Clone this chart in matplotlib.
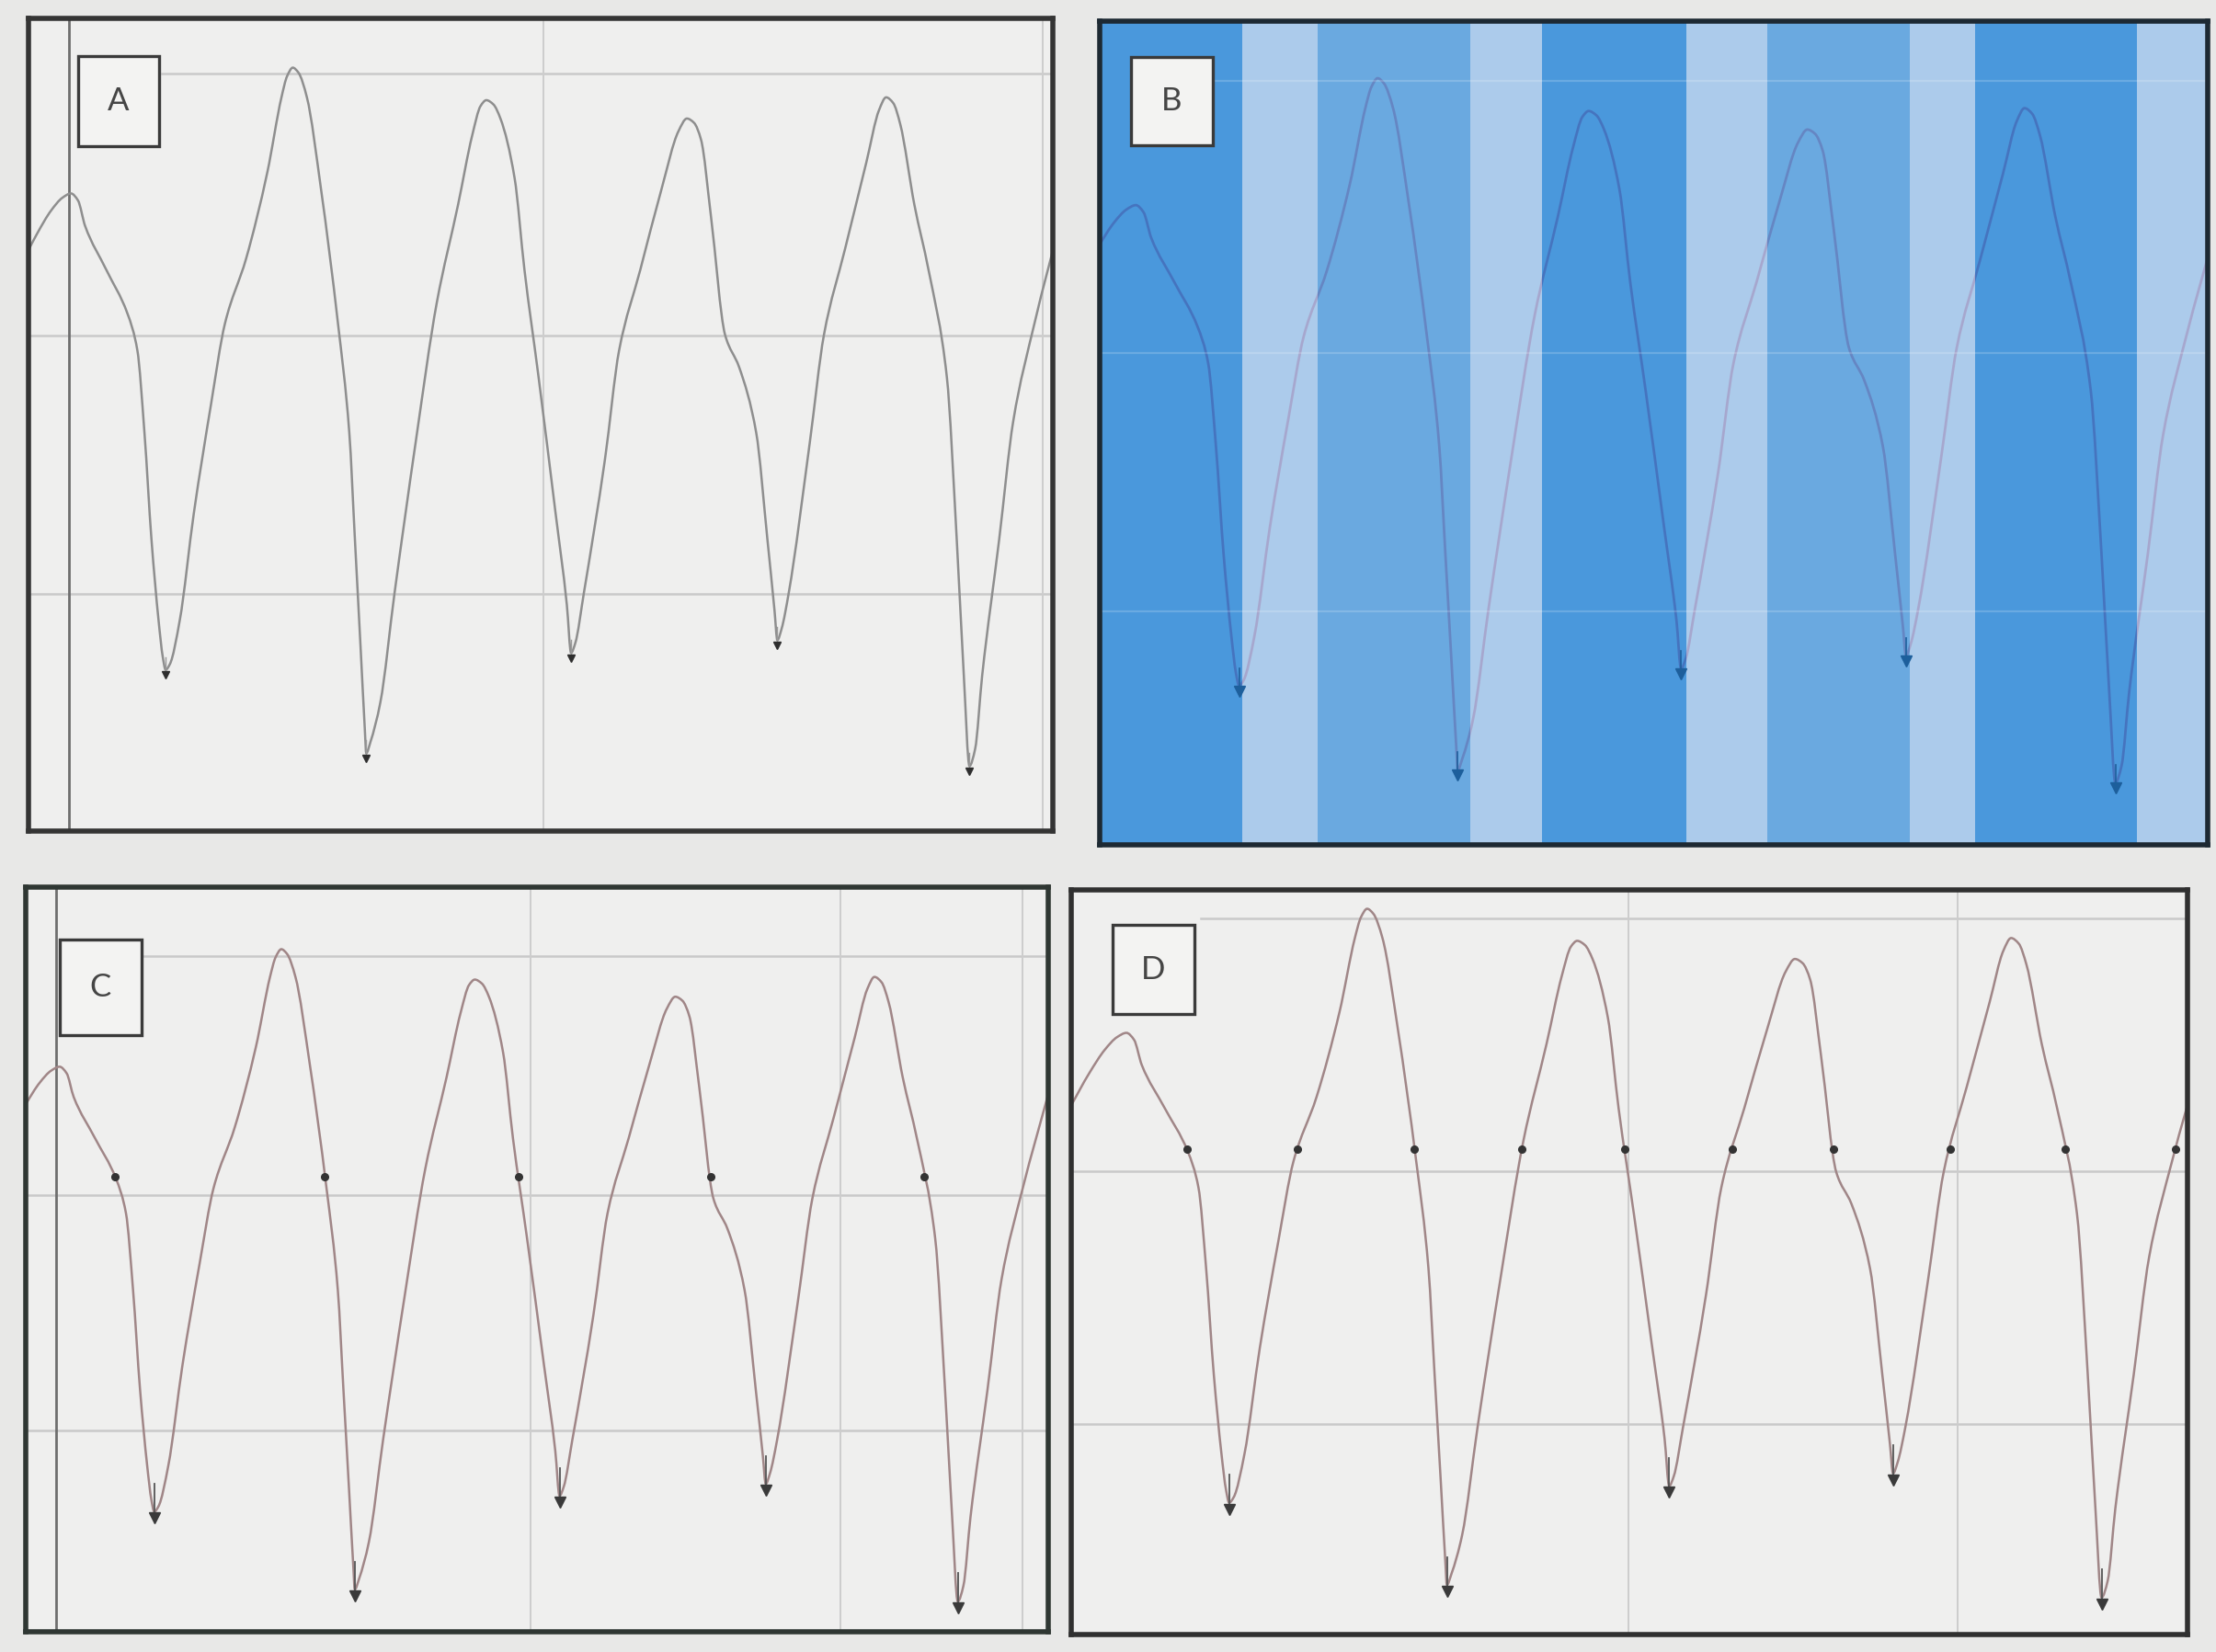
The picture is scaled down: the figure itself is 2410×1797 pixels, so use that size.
import numpy as np
import matplotlib
matplotlib.use("Agg")
import matplotlib.pyplot as plt
from matplotlib.patches import Rectangle, PathPatch
from matplotlib.path import Path

# Pressure trace (time in s, pressure in mmHg)
time_s = [-0.04, 0.03, 0.08, 0.12, 0.15, 0.175, 0.20, 0.275, 0.35, 0.385,
          0.41, 0.435, 0.46, 0.475, 0.485, 0.50, 0.535, 0.585, 0.645, 0.695,
          0.77, 0.845, 0.895, 0.915, 0.935, 0.955, 0.985, 1.035, 1.095, 1.135,
          1.155, 1.175, 1.19, 1.195, 1.21, 1.245, 1.295, 1.37, 1.445, 1.52,
          1.57, 1.60, 1.62, 1.645, 1.67, 1.72, 1.755, 1.805, 1.865, 1.905,
          1.92, 1.935, 1.965, 2.04, 2.09, 2.165, 2.24, 2.30, 2.33, 2.355,
          2.38, 2.415, 2.465, 2.515, 2.575, 2.615, 2.64, 2.65, 2.665, 2.69,
          2.765, 2.815, 2.89, 2.965, 3.01, 3.035, 3.06, 3.085, 3.135, 3.185,
          3.25, 3.285, 3.31, 3.33, 3.35, 3.375, 3.435, 3.485, 3.56, 3.65]
pressure = [99.0, 104.5, 107.8, 109.6, 110.2, 109.2, 105.6, 99.4, 93.2, 88.0,
            76.4, 61.2, 49.8, 44.6, 42.8, 43.6, 49.8, 65.0, 80.2, 91.8,
            101.0, 113.2, 123.8, 126.8, 128.0, 127.3, 123.8, 110.8, 91.8, 76.4,
            61.2, 46.0, 34.4, 31.0, 32.6, 38.2, 53.6, 75.0, 94.8, 108.6,
            118.4, 122.6, 123.4, 122.8, 120.8, 112.4, 99.4, 84.2, 65.0, 52.0,
            45.2, 46.6, 53.6, 72.6, 88.0, 99.4, 110.8, 119.0, 120.8, 120.2,
            117.8, 107.0, 90.2, 85.6, 76.4, 61.2, 51.2, 47.0, 48.6, 53.6,
            75.0, 90.2, 102.4, 114.6, 122.0, 123.8, 123.0, 120.0, 108.6, 99.4,
            84.2, 61.2, 42.0, 29.2, 31.6, 42.0, 61.2, 78.0, 91.8, 106.0]

# Diastolic minima (beat onsets)
trough_t = [0.485, 1.195, 1.92, 2.65, 3.33]

# Threshold level used for the crossing markers
threshold = 93.5

# Cardiac-phase shading of panel B
stripe_edges = [0.033, 0.494, 0.739, 1.237, 1.468, 1.938, 2.201, 2.662,
                2.874, 3.40, 3.63]
stripe_kind = ["dark", "light", "mid", "light", "dark", "light", "mid",
               "light", "dark", "light"]

panel_labels = ["A", "B", "C", "D"]

t = np.asarray(time_s)
p = np.asarray(pressure)

# threshold crossings along the trace
d = p - threshold
idx = np.where(np.sign(d[:-1]) != np.sign(d[1:]))[0]
cross_t = t[idx] + (threshold - p[idx]) * (t[idx + 1] - t[idx]) / (p[idx + 1] - p[idx])
falling = p[idx + 1] < p[idx]
trough_p = np.interp(trough_t, t, p)


def trace_path(x, y):
    """Smooth monotone (Fritsch-Carlson) cubic path through the samples."""
    h = np.diff(x)
    delta = np.diff(y) / h
    m = np.zeros_like(y)
    m[0], m[-1] = delta[0], delta[-1]
    for k in range(1, len(x) - 1):
        if delta[k - 1] * delta[k] <= 0:
            m[k] = 0.0
        else:
            w1 = 2 * h[k] + h[k - 1]
            w2 = h[k] + 2 * h[k - 1]
            m[k] = (w1 + w2) / (w1 / delta[k - 1] + w2 / delta[k])
    verts = [(x[0], y[0])]
    codes = [Path.MOVETO]
    for k in range(len(x) - 1):
        hk = h[k]
        verts += [(x[k] + hk / 3, y[k] + m[k] * hk / 3),
                  (x[k + 1] - hk / 3, y[k + 1] - m[k + 1] * hk / 3),
                  (x[k + 1], y[k + 1])]
        codes += [Path.CURVE4] * 3
    return Path(verts, codes)


FIG_W, FIG_H = 24.10, 17.97
fig = plt.figure(figsize=(FIG_W, FIG_H), dpi=100)
fig.patch.set_facecolor("#e8e8e7")

panels = {
    "A": dict(rect=[0.0129, 0.497, 0.4622, 0.492], xlim=(0.0, 3.625), ylim=(20.0, 135.0),
              frame="#343434"),
    "B": dict(rect=[0.4963, 0.4886, 0.5000, 0.4986], xlim=(0.033, 3.63), ylim=(20.5, 136.0),
              frame="#1d2933"),
    "C": dict(rect=[0.0116, 0.0122, 0.4614, 0.4508], xlim=(0.03, 3.65), ylim=(24.6, 137.4),
              frame="#2f3733"),
    "D": dict(rect=[0.4834, 0.0106, 0.5037, 0.4507], xlim=(-0.03, 3.61), ylim=(23.9, 130.7),
              frame="#303030"),
}

label_boxes = {
    "A": (0.048, 0.842, 0.079, 0.111),
    "B": (0.028, 0.849, 0.074, 0.108),
    "C": (0.033, 0.801, 0.080, 0.129),
    "D": (0.037, 0.833, 0.073, 0.120),
}

# gridlines (axes fractions)
hgrid = {
    "A": [(0.932, 0.13), (0.609, 0.0), (0.292, 0.0)],
    "B": [(0.928, 0.10), (0.597, 0.0), (0.283, 0.0)],
    "C": [(0.907, 0.113), (0.586, 0.0), (0.271, 0.0)],
    "D": [(0.962, 0.116), (0.622, 0.0), (0.283, 0.0)],
}
vgrid = {
    "A": [0.503, 0.99],
    "B": [],
    "C": [0.494, 0.797, 0.975],
    "D": [0.499, 0.794],
}
axis_line = {"A": 0.039, "C": 0.030}


def pts_to_data(ax, pts, ylim):
    h_pt = ax.get_position().height * FIG_H * 72.0
    return pts * (ylim[1] - ylim[0]) / h_pt


def draw_trace(ax, color, lw, zorder):
    ax.add_patch(PathPatch(trace_path(t, p), facecolor="none", edgecolor=color,
                           lw=lw, zorder=zorder, capstyle="round", joinstyle="round"))


stripe_colors = {"dark": "#2283d8", "mid": "#4a99dd", "light": "#9cc3eb"}

for name in panel_labels:
    cfg = panels[name]
    ax = fig.add_axes(cfg["rect"])
    ax.set_xlim(*cfg["xlim"])
    ax.set_ylim(*cfg["ylim"])
    ax.set_xticks([])
    ax.set_yticks([])
    ax.set_facecolor("#efefee")
    for s in ax.spines.values():
        s.set_color(cfg["frame"])
        s.set_linewidth(4.0)
        s.set_zorder(10)

    if name != "B":
        for yf, x0 in hgrid[name]:
            ax.axhline(cfg["ylim"][0] + yf * (cfg["ylim"][1] - cfg["ylim"][0]),
                       xmin=x0, xmax=1, color="#c9c9c9", lw=1.8, zorder=1)
        for xf in vgrid[name]:
            ax.axvline(cfg["xlim"][0] + xf * (cfg["xlim"][1] - cfg["xlim"][0]),
                       color="#cdcdcd", lw=1.4, zorder=1)
        if name in axis_line:
            ax.axvline(cfg["xlim"][0] + axis_line[name] * (cfg["xlim"][1] - cfg["xlim"][0]),
                       color="#6e6e6e", lw=2.0, zorder=1)

    ylim = cfg["ylim"]
    if name == "A":
        draw_trace(ax, "#8e8e8e", 1.8, 3)
        for tt, pp in zip(trough_t, trough_p):
            ax.plot([tt, tt], [pp + pts_to_data(ax, 10, ylim), pp - pts_to_data(ax, 3, ylim)],
                    color="#9a9a9a", lw=1.0, zorder=3)
            ax.plot(tt, pp - pts_to_data(ax, 4, ylim), marker="v", ms=6,
                    color="#2e2e2e", zorder=4, ls="none")
    elif name == "B":
        ax.set_facecolor("#ececec")
        draw_trace(ax, "#d23d5e", 2.0, 1)
        for k, kind in enumerate(stripe_kind):
            ax.axvspan(stripe_edges[k], stripe_edges[k + 1], color=stripe_colors[kind],
                       alpha=0.8, lw=0, zorder=2)
        ax.axvspan(cfg["xlim"][0], stripe_edges[0], color=stripe_colors["dark"],
                   alpha=0.8, lw=0, zorder=2)
        ax.axvspan(stripe_edges[-1], cfg["xlim"][1], color=stripe_colors["light"],
                   alpha=0.8, lw=0, zorder=2)
        for yf, x0 in hgrid[name]:
            ax.axhline(ylim[0] + yf * (ylim[1] - ylim[0]), xmin=x0, xmax=1,
                       color="#ffffff", alpha=0.18, lw=1.6, zorder=2.5)
        for tt, pp in zip(trough_t, trough_p):
            ax.plot([tt, tt], [pp + pts_to_data(ax, 14, ylim), pp - pts_to_data(ax, 3, ylim)],
                    color="#1f5f9c", lw=1.2, zorder=3)
            ax.plot(tt, pp - pts_to_data(ax, 4, ylim), marker="v", ms=8,
                    color="#1d5f9c", zorder=4, ls="none")
    else:
        draw_trace(ax, "#a08687", 1.8, 3)
        if name == "C":
            mt = cross_t[falling]
        else:
            mt = cross_t
        ax.plot(mt, np.full(len(mt), threshold), "o", ms=5.5, color="#333333", zorder=4)
        for tt, pp in zip(trough_t, trough_p):
            ax.plot([tt, tt], [pp + pts_to_data(ax, 22, ylim), pp - pts_to_data(ax, 4, ylim)],
                    color="#555555", lw=1.3, zorder=3)
            ax.plot(tt, pp - pts_to_data(ax, 5, ylim), marker="v", ms=9,
                    color="#3a3a3a", zorder=4, ls="none")

    bx, by, bw, bh = label_boxes[name]
    ax.add_patch(Rectangle((bx, by), bw, bh, transform=ax.transAxes,
                           facecolor="#f3f3f2", edgecolor="#3a3a3a", lw=2.4, zorder=8))
    ax.text(bx + bw / 2, by + bh / 2, name, transform=ax.transAxes, ha="center",
            va="center", fontsize=25, color="#454545", family=["Lato", "DejaVu Sans"],
            zorder=9)

fig.savefig("out.png", dpi=100, facecolor=fig.get_facecolor())
